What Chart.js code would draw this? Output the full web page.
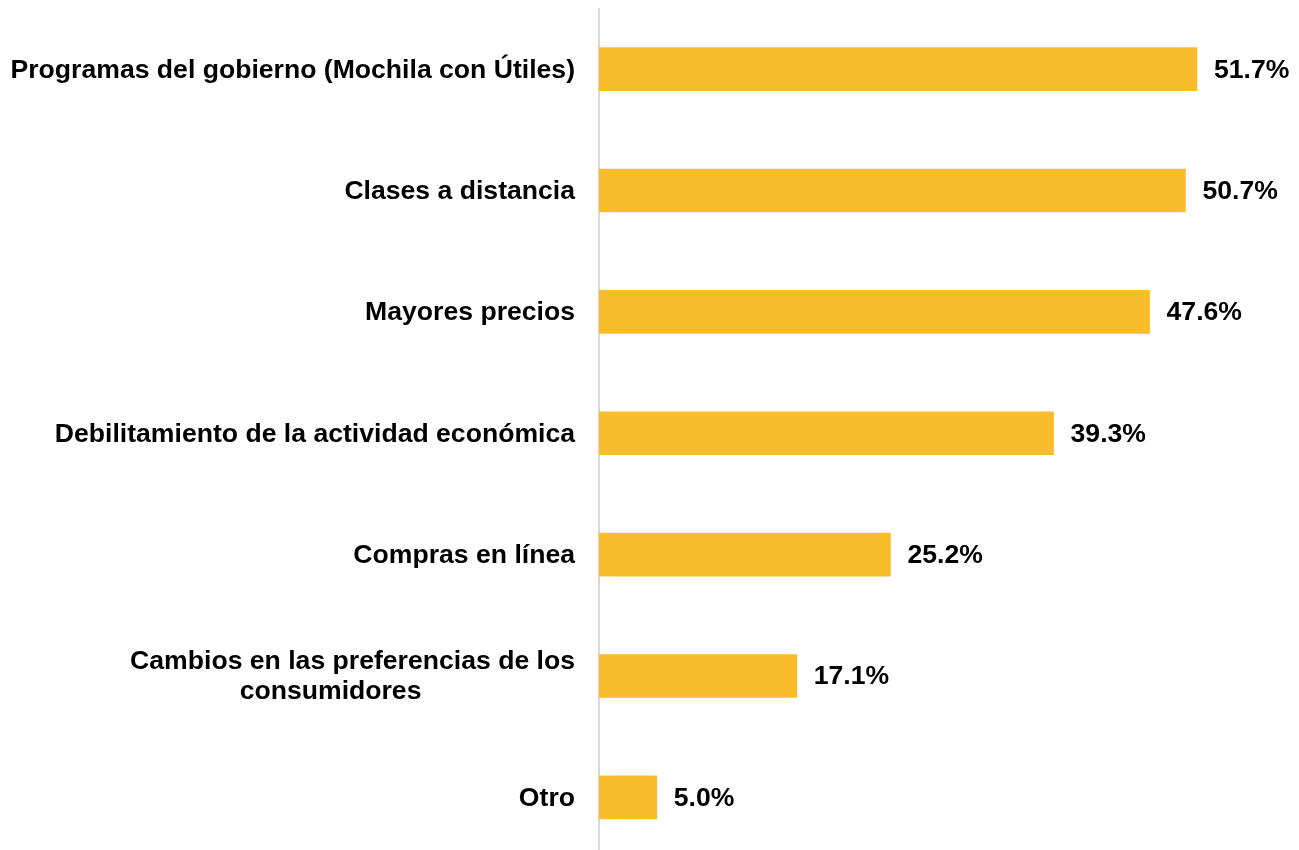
<!DOCTYPE html>
<html>
<head>
<meta charset="utf-8">
<script src="https://cdn.jsdelivr.net/npm/chart.js@4"></script>
<style>
  html, body { margin: 0; padding: 0; background: #fff; overflow: hidden; }
  #wrap { width: 1299px; height: 858px; position: relative; }
  .preload { font: bold 26px "Liberation Sans"; position: absolute; left: -9999px; }
</style>
</head>
<body>
<span class="preload">Liberation</span>
<div id="wrap"><canvas id="motivosChart"></canvas></div>
<script>
const motivos = [
  'Programas del gobierno (Mochila con Útiles)',
  'Clases a distancia',
  'Mayores precios',
  'Debilitamiento de la actividad económica',
  'Compras en línea',
  ['Cambios en las preferencias de los', 'consumidores'],
  'Otro'
];
const porcentajes = [51.7, 50.7, 47.6, 39.3, 25.2, 17.1, 5.0];

const FONT = 'bold 26.6px "Liberation Sans", Arial, sans-serif';

// etiquetas del eje y y valores al final de cada barra
const labelsPlugin = {
  id: 'labelsPlugin',
  afterDraw(chart) {
    const ctx = chart.ctx;
    const yScale = chart.scales.y;
    const meta = chart.getDatasetMeta(0);
    ctx.save();
    ctx.font = FONT;
    ctx.fillStyle = '#000';
    ctx.textBaseline = 'middle';

    const right = chart.chartArea.left - 24;
    motivos.forEach((lbl, i) => {
      const y = yScale.getPixelForTick(i) + 1;
      if (Array.isArray(lbl)) {
        // primera linea alineada a la derecha, la segunda centrada debajo
        const lh = 30;
        const w = ctx.measureText(lbl[0]).width;
        const y0 = y - lh / 2;
        ctx.textAlign = 'right';
        ctx.fillText(lbl[0], right, y0);
        ctx.textAlign = 'center';
        ctx.fillText(lbl[1], right - w / 2 - 22, y0 + lh);
      } else {
        ctx.textAlign = 'right';
        ctx.fillText(lbl, right, y);
      }
    });

    ctx.textAlign = 'left';
    meta.data.forEach((bar, i) => {
      ctx.fillText(porcentajes[i].toFixed(1) + '%', bar.x + 17, bar.y + 1);
    });
    ctx.restore();
  }
};

function draw() {
  new Chart(document.getElementById('motivosChart'), {
    type: 'bar',
    data: {
      labels: motivos,
      datasets: [{
        data: porcentajes,
        backgroundColor: '#F9BD2B',
        borderWidth: 0,
        barThickness: 43
      }]
    },
    options: {
      indexAxis: 'y',
      responsive: true,
      maintainAspectRatio: false,
      animation: false,
      layout: { padding: { top: 8.5, right: 6, bottom: 0, left: 0 } },
      plugins: {
        legend: { display: false },
        tooltip: { enabled: false }
      },
      scales: {
        x: {
          display: false,
          min: 0,
          max: 60
        },
        y: {
          grid: { display: false, drawTicks: false },
          border: { display: true, color: '#d9d9d9', width: 2 },
          ticks: { display: false },
          afterFit(scale) { scale.width = 599; }
        }
      }
    },
    plugins: [labelsPlugin]
  });
}

document.fonts.load(FONT).then(draw, draw);
</script>
</body>
</html>
